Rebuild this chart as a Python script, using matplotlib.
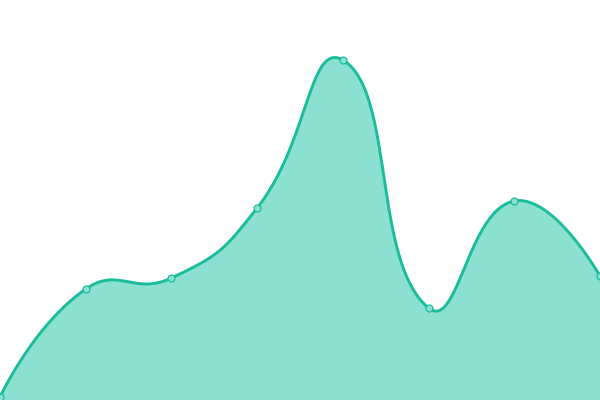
import numpy as np
import matplotlib
matplotlib.use("Agg")
import matplotlib.pyplot as plt

# data (value scale 0..400, bottom of the chart = 0)
categories = ["A", "B", "C", "D", "E", "F", "G", "H"]
values = [3, 111, 122, 192, 340, 92, 199, 124]

line_color = "#1abc9c"
fill_color = "#8ce0cf"


def smooth_path(xs, ys, smooth=0.5, n=60):
    # bezier smoothing in the style of echarts (smooth: true)
    px, py = [], []
    cpx0, cpy0 = xs[0], ys[0]
    for k in range(1, len(xs)):
        x, y = xs[k], ys[k]
        prev_x, prev_y = xs[k - 1], ys[k - 1]
        if k >= len(xs) - 1:
            ncx, ncy = x, y
            vx = vy = 0.0
            ratio = 0.5
        else:
            nx, ny = xs[k + 1], ys[k + 1]
            vx, vy = nx - prev_x, ny - prev_y
            len_prev = np.hypot(x - prev_x, y - prev_y)
            len_next = np.hypot(nx - x, ny - y)
            ratio = len_next / (len_next + len_prev)
            ncx = x - vx * smooth * (1 - ratio)
            ncy = y - vy * smooth * (1 - ratio)
        t = np.linspace(0, 1, n)
        bx = ((1 - t) ** 3 * prev_x + 3 * (1 - t) ** 2 * t * cpx0
              + 3 * (1 - t) * t ** 2 * ncx + t ** 3 * x)
        by = ((1 - t) ** 3 * prev_y + 3 * (1 - t) ** 2 * t * cpy0
              + 3 * (1 - t) * t ** 2 * ncy + t ** 3 * y)
        px.extend(bx)
        py.extend(by)
        cpx0 = x + vx * smooth * ratio
        cpy0 = y + vy * smooth * ratio
    return np.array(px), np.array(py)


fig = plt.figure(figsize=(6, 4), dpi=100)
ax = fig.add_axes([0, 0, 1, 1])

x = np.linspace(0, 600, len(categories))
cx, cy = smooth_path(x, np.array(values, dtype=float))

ax.fill_between(cx, cy, 0, color=fill_color, linewidth=0)
ax.plot(cx, cy, color=line_color, linewidth=2.1, solid_capstyle="round")
ax.plot(x, values, linestyle="none", marker="o", markersize=5,
        markerfacecolor=fill_color, markeredgecolor=line_color, markeredgewidth=0.9)

ax.set_xlim(0, 600)
ax.set_ylim(0, 400)
ax.axis("off")

fig.savefig("out.png", dpi=100)
